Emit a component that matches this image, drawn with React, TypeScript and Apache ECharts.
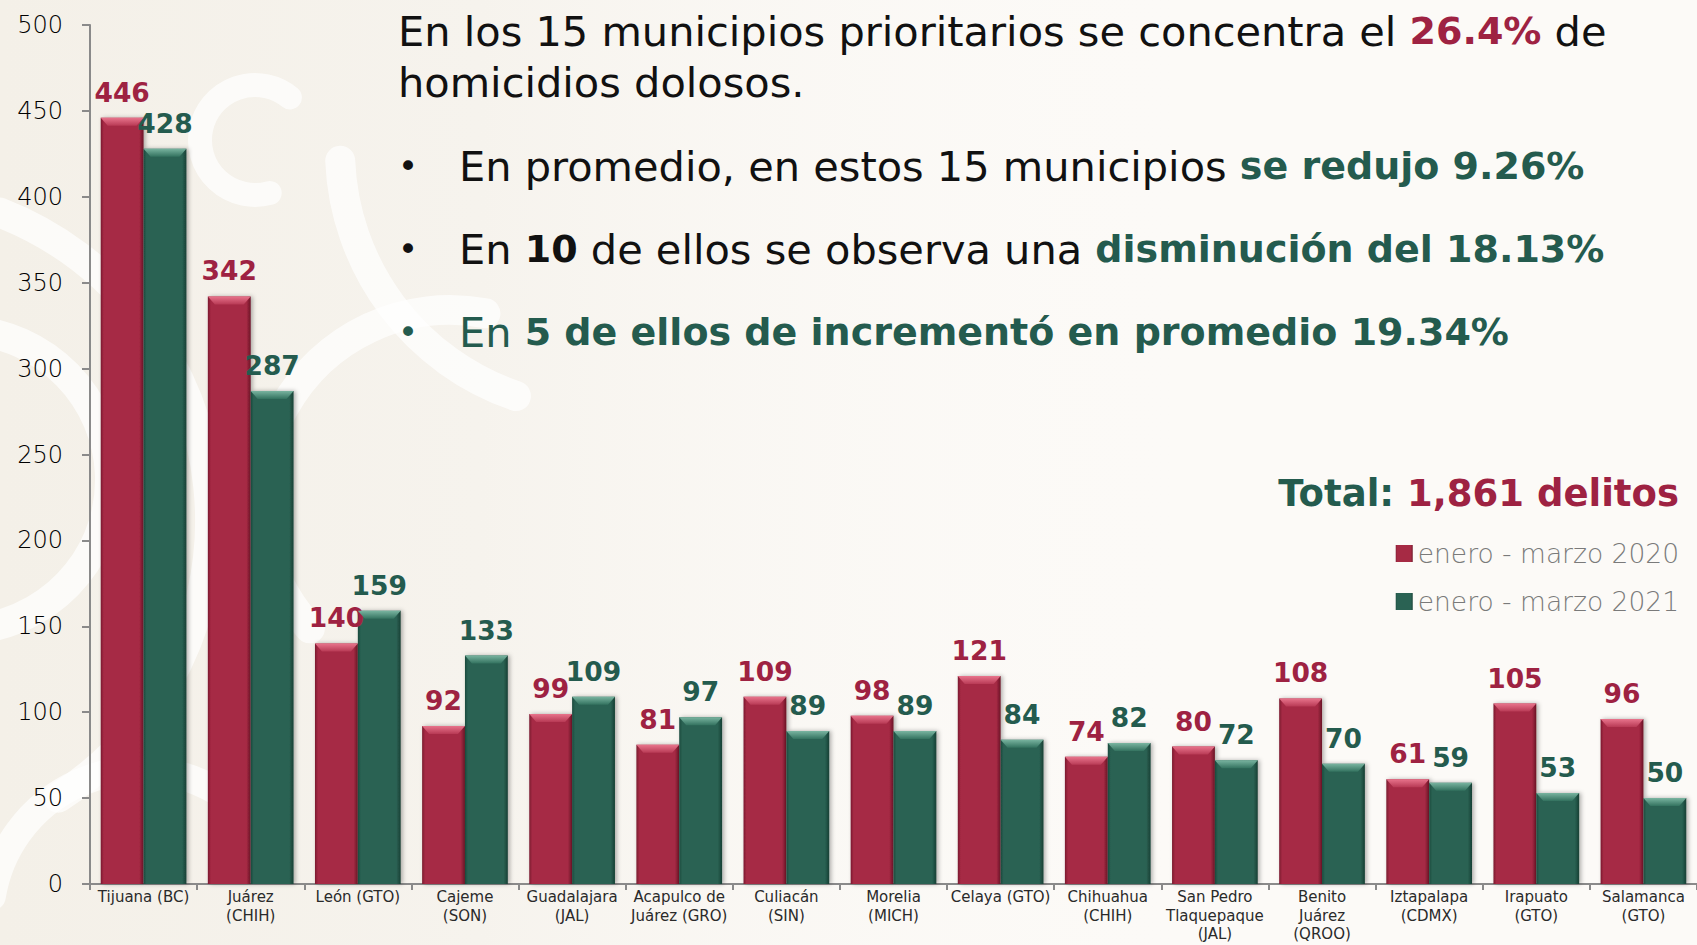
import React, { useEffect, useRef } from "react";
import * as echarts from "echarts";

const categories = [
  "Tijuana (BC)",
  "Juárez\n(CHIH)",
  "León (GTO)",
  "Cajeme\n(SON)",
  "Guadalajara\n(JAL)",
  "Acapulco de\nJuárez (GRO)",
  "Culiacán\n(SIN)",
  "Morelia\n(MICH)",
  "Celaya (GTO)",
  "Chihuahua\n(CHIH)",
  "San Pedro\nTlaquepaque\n(JAL)",
  "Benito\nJuárez\n(QROO)",
  "Iztapalapa\n(CDMX)",
  "Irapuato\n(GTO)",
  "Salamanca\n(GTO)",
];
const values2020 = [446, 342, 140, 92, 99, 81, 109, 98, 121, 74, 80, 108, 61, 105, 96];
const values2021 = [428, 287, 159, 133, 109, 97, 89, 89, 84, 82, 72, 70, 59, 53, 50];
const seriesNames = ["enero - marzo 2020", "enero - marzo 2021"];
const yTicks = { min: 0, max: 500, interval: 50 };

const FONT = "'DejaVu Sans', 'Open Sans', sans-serif";
const RED = "#A62A44";
const GREEN = "#2A6253";
const RED_TXT = "#9E2242";
const GREEN_TXT = "#245B4E";
const RS = 41.5; // headline regular size
const BS = 38; // headline bold size

function hGrad(edge: string, mid: string, edge2: string) {
  return new echarts.graphic.LinearGradient(0, 0, 1, 0, [
    { offset: 0, color: edge },
    { offset: 0.07, color: mid },
    { offset: 0.9, color: mid },
    { offset: 1, color: edge2 },
  ]);
}

function band(cx: number, cy: number, r: number, a0: number, a1: number, w: number) {
  return {
    type: "arc",
    z: -9,
    silent: true,
    shape: { cx, cy, r, startAngle: a0, endAngle: a1 },
    style: { stroke: "rgba(255,255,255,0.7)", lineWidth: w, fill: null, lineCap: "round" },
  };
}

export default function App() {
  const ref = useRef<HTMLDivElement>(null);
  useEffect(() => {
    document.body.style.margin = "0";
    const chart = echarts.init(ref.current!, null, { renderer: "svg" });
    const bevelData = categories.map((_, i) => [i, values2020[i], values2021[i]]);

    const option: any = {
      animation: false,
      backgroundColor: "#FCFAF7",
      textStyle: { fontFamily: FONT },
      grid: { left: 90, right: 0, top: 25, bottom: 61, containLabel: false, outerBoundsMode: "none" },
      legend: {
        orient: "vertical",
        right: 13,
        top: 535,
        itemWidth: 17,
        itemHeight: 17,
        itemGap: 21,
        icon: "rect",
        data: seriesNames,
        textStyle: { fontSize: 26.5, color: "#7a7a7a", fontFamily: FONT, fontWeight: 300 },
      },
      xAxis: {
        type: "category",
        data: categories,
        axisLine: { show: true, lineStyle: { color: "#8a8a8a", width: 2 } },
        axisTick: { show: true, length: 6, lineStyle: { color: "#8a8a8a", width: 2 } },
        axisLabel: {
          interval: 0,
          margin: 4,
          fontSize: 15,
          lineHeight: 18.5,
          color: "#2a2a2a",
          fontFamily: FONT,
        },
      },
      yAxis: {
        type: "value",
        min: yTicks.min,
        max: yTicks.max,
        interval: yTicks.interval,
        splitLine: { show: false },
        axisLine: { show: true, lineStyle: { color: "#8a8a8a", width: 2 } },
        axisTick: { show: true, length: 8, lineStyle: { color: "#8a8a8a", width: 2 } },
        axisLabel: { fontSize: 24, color: "#000", margin: 27, fontFamily: FONT, fontWeight: 300 },
      },
      graphic: [
        {
          type: "rect",
          z: -10,
          silent: true,
          shape: { x: 0, y: 0, width: 1200, height: 945 },
          style: {
            fill: new echarts.graphic.LinearGradient(0, 0, 1, 0, [
              { offset: 0, color: "#F4F0E8" },
              { offset: 0.4, color: "#F6F3ED" },
              { offset: 1, color: "rgba(252,250,247,0)" },
            ]),
          },
        },
        band(255, 140, 55, 1.3, 5.4, 24),
        band(-40, 480, 150, -1.5, 1.4, 30),
        band(-120, 520, 330, -1.2, 1.0, 30),
        band(450, 500, 190, 2.4, 4.9, 30),
        band(140, 920, 150, 3.3, 5.3, 28),
        band(600, 150, 260, 1.9, 3.1, 30),
      ],
      series: [
        {
          name: seriesNames[0],
          type: "bar",
          data: values2020,
          barGap: "0%",
          barCategoryGap: "20%",
          itemStyle: {
            color: hGrad("#7A1A2F", RED, "#6A1426"),
            shadowBlur: 4,
            shadowColor: "rgba(0,0,0,0.3)",
            shadowOffsetX: 2,
          },
          label: {
            show: true,
            position: "top",
            distance: 12,
            fontSize: 26.5,
            fontWeight: "bold",
            color: RED_TXT,
            fontFamily: FONT,
          },
        },
        {
          name: seriesNames[1],
          type: "bar",
          data: values2021,
          barGap: "0%",
          barCategoryGap: "20%",
          itemStyle: {
            color: hGrad("#1B4A3D", GREEN, "#173F34"),
            shadowBlur: 4,
            shadowColor: "rgba(0,0,0,0.3)",
            shadowOffsetX: 2,
          },
          label: {
            show: true,
            position: "top",
            distance: 12,
            fontSize: 26.5,
            fontWeight: "bold",
            color: GREEN_TXT,
            fontFamily: FONT,
          },
        },
        {
          type: "custom",
          silent: true,
          z: 5,
          data: bevelData,
          encode: { x: 0, y: [1, 2] },
          renderItem: (params: any, api: any) => {
            const idx = api.value(0);
            const base = api.coord([idx, 0]);
            const bw = api.size([1, 0])[0];
            const w = bw * 0.4;
            const cx = base[0];
            const d = 7;
            const h = 8;
            const make = (x0: number, x1: number, y: number, c1: string, c2: string) => ({
              type: "polygon",
              shape: { points: [[x0, y], [x1, y], [x1 - d, y + h], [x0 + d, y + h]] },
              style: {
                fill: new echarts.graphic.LinearGradient(0, 0, 0, 1, [
                  { offset: 0, color: c1 },
                  { offset: 1, color: c2 },
                ]),
              },
            });
            const y1 = api.coord([idx, api.value(1)])[1];
            const y2 = api.coord([idx, api.value(2)])[1];
            return {
              type: "group",
              children: [
                make(cx - w, cx, y1, "#E8748C", "#B83A55"),
                make(cx, cx + w, y2, "#79B4A0", "#33725F"),
              ],
            };
          },
        },
      ],
    };

    const texts: any[] = [
      {
        type: "text",
        z: 10,
        x: 398,
        y: 31,
        style: {
          text: "{n|En los 15 municipios prioritarios se concentra el }{r|26.4%}{n| de}",
          fontFamily: FONT,
          fontSize: RS,
          fill: "#111",
          verticalAlign: "middle",
          rich: {
            n: { fontFamily: FONT, fontSize: RS, fill: "#111" },
            r: { fontFamily: FONT, fontSize: BS, fontWeight: "bold", fill: RED_TXT },
          },
        },
      },
      {
        type: "text",
        z: 10,
        x: 398,
        y: 82,
        style: { text: "homicidios dolosos.", fontFamily: FONT, fontSize: RS, fill: "#111", verticalAlign: "middle" },
      },
      { type: "text", z: 10, x: 398, y: 166, style: { text: "•", fontFamily: FONT, fontSize: 34, fill: "#111", verticalAlign: "middle" } },
      { type: "text", z: 10, x: 398, y: 249, style: { text: "•", fontFamily: FONT, fontSize: 34, fill: "#111", verticalAlign: "middle" } },
      { type: "text", z: 10, x: 398, y: 332, style: { text: "•", fontFamily: FONT, fontSize: 34, fill: GREEN_TXT, verticalAlign: "middle" } },
      {
        type: "text",
        z: 10,
        x: 459,
        y: 166,
        style: {
          text: "{n|En promedio, en estos 15 municipios }{g|se redujo 9.26%}",
          fontFamily: FONT,
          fontSize: RS,
          verticalAlign: "middle",
          rich: {
            n: { fontFamily: FONT, fontSize: RS, fill: "#111" },
            g: { fontFamily: FONT, fontSize: BS, fontWeight: "bold", fill: GREEN_TXT },
          },
        },
      },
      {
        type: "text",
        z: 10,
        x: 459,
        y: 249,
        style: {
          text: "{n|En }{k|10}{n| de ellos se observa una }{g|disminución del 18.13%}",
          fontFamily: FONT,
          fontSize: RS,
          verticalAlign: "middle",
          rich: {
            n: { fontFamily: FONT, fontSize: RS, fill: "#111" },
            k: { fontFamily: FONT, fontSize: BS, fontWeight: "bold", fill: "#111" },
            g: { fontFamily: FONT, fontSize: BS, fontWeight: "bold", fill: GREEN_TXT },
          },
        },
      },
      {
        type: "text",
        z: 10,
        x: 459,
        y: 332,
        style: {
          text: "{n|En }{g|5 de ellos de incrementó en promedio 19.34%}",
          fontFamily: FONT,
          fontSize: RS,
          verticalAlign: "middle",
          rich: {
            n: { fontFamily: FONT, fontSize: RS, fill: GREEN_TXT },
            g: { fontFamily: FONT, fontSize: BS, fontWeight: "bold", fill: GREEN_TXT },
          },
        },
      },
      {
        type: "text",
        z: 10,
        x: 1679,
        y: 493,
        style: {
          text: "{g|Total: }{r|1,861 delitos}",
          fontFamily: FONT,
          fontSize: 37,
          align: "right",
          verticalAlign: "middle",
          rich: {
            g: { fontFamily: FONT, fontSize: 37, fontWeight: "bold", fill: GREEN_TXT },
            r: { fontFamily: FONT, fontSize: 37, fontWeight: "bold", fill: RED_TXT },
          },
        },
      },
    ];
    option.graphic = option.graphic.concat(texts);
    chart.setOption(option);
    return () => chart.dispose();
  }, []);
  return <div ref={ref} style={{ width: 1697, height: 945 }} />;
}
